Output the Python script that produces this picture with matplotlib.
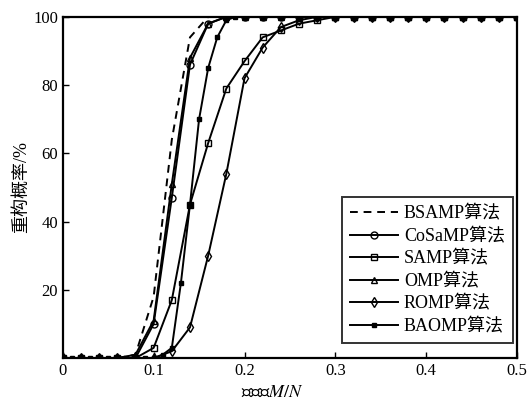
import matplotlib
matplotlib.use('Agg')
import matplotlib.pyplot as plt

plt.rcParams['font.family'] = ['Liberation Serif', 'Noto Sans CJK SC']
plt.rcParams['mathtext.fontset'] = 'stix'

# compression ratio M/N
x = [0.00, 0.02, 0.04, 0.06, 0.08, 0.10, 0.12, 0.14, 0.16, 0.18, 0.20, 0.22, 0.24,
     0.26, 0.28, 0.30, 0.32, 0.34, 0.36, 0.38, 0.40, 0.42, 0.44, 0.46, 0.48, 0.50]

bsamp  = [0, 0, 0, 0, 1, 18, 64, 94, 100, 100, 100, 100, 100,
          100, 100, 100, 100, 100, 100, 100, 100, 100, 100, 100, 100, 100]
cosamp = [0, 0, 0, 0, 0, 10, 47, 86, 98, 100, 100, 100, 100,
          100, 100, 100, 100, 100, 100, 100, 100, 100, 100, 100, 100, 100]
samp   = [0, 0, 0, 0, 0, 3, 17, 45, 63, 79, 87, 94, 96,
          98, 99, 100, 100, 100, 100, 100, 100, 100, 100, 100, 100, 100]
omp    = [0, 0, 0, 0, 1, 11, 51, 88, 98, 100, 100, 100, 100,
          100, 100, 100, 100, 100, 100, 100, 100, 100, 100, 100, 100, 100]
romp   = [0, 0, 0, 0, 0, 0, 2, 9, 30, 54, 82, 91, 97,
          99, 100, 100, 100, 100, 100, 100, 100, 100, 100, 100, 100, 100]

# BAOMP sampled finer
x_ba = [0.00, 0.01, 0.02, 0.03, 0.04, 0.05, 0.06, 0.07, 0.08, 0.09, 0.10, 0.11,
        0.12, 0.13, 0.14, 0.15, 0.16, 0.17, 0.18, 0.19, 0.20, 0.22, 0.24, 0.26,
        0.28, 0.30, 0.32, 0.34, 0.36, 0.38, 0.40, 0.42, 0.44, 0.46, 0.48, 0.50]
baomp = [0, 0, 0, 0, 0, 0, 0, 0, 0, 0, 0, 1,
         3, 22, 45, 70, 85, 94, 99, 100, 100, 100, 100, 100,
         100, 100, 100, 100, 100, 100, 100, 100, 100, 100, 100, 100]

fig = plt.figure(figsize=(5.32, 4.01), dpi=100)
ax = fig.add_axes([0.118, 0.107, 0.854, 0.851])

lw = 1.4
ax.plot(x, bsamp, 'k', ls=(0, (4, 3)), lw=lw, label='BSAMP算法')
ax.plot(x, cosamp, 'k-', lw=lw, marker='o', ms=5, mfc='none', mew=1, label='CoSaMP算法')
ax.plot(x, samp, 'k-', lw=lw, marker='s', ms=5, mfc='none', mew=1, label='SAMP算法')
ax.plot(x, omp, 'k-', lw=lw, marker='^', ms=5, mfc='none', mew=1, label='OMP算法')
ax.plot(x, romp, 'k-', lw=lw, marker='d', ms=5, mfc='none', mew=1, label='ROMP算法')
ax.plot(x_ba, baomp, 'k-', lw=lw, marker='s', ms=2.8, mfc='k', label='BAOMP算法')

ax.set_xlim(0, 0.5)
ax.set_ylim(0, 100)
ax.set_xticks([0, 0.1, 0.2, 0.3, 0.4, 0.5])
ax.set_xticklabels(['0', '0.1', '0.2', '0.3', '0.4', '0.5'])
ax.set_yticks([20, 40, 60, 80, 100])
ax.tick_params(direction='in', labelsize=12, length=4, width=1)
for s in ax.spines.values():
    s.set_linewidth(1.6)

ax.set_xlabel('压缩比$M/N$', fontsize=13)
ax.xaxis.set_label_coords(0.46, -0.075)
ax.set_ylabel('重构概率/%', fontsize=13, labelpad=2)

leg = ax.legend(loc='lower right', bbox_to_anchor=(0.991, 0.044), fontsize=13,
                frameon=True, fancybox=False, edgecolor='k', handlelength=2.7,
                handletextpad=0.3, labelspacing=0.3, borderpad=0.45, borderaxespad=0)
leg.get_frame().set_linewidth(1.4)

fig.savefig('out.png', dpi=100)
